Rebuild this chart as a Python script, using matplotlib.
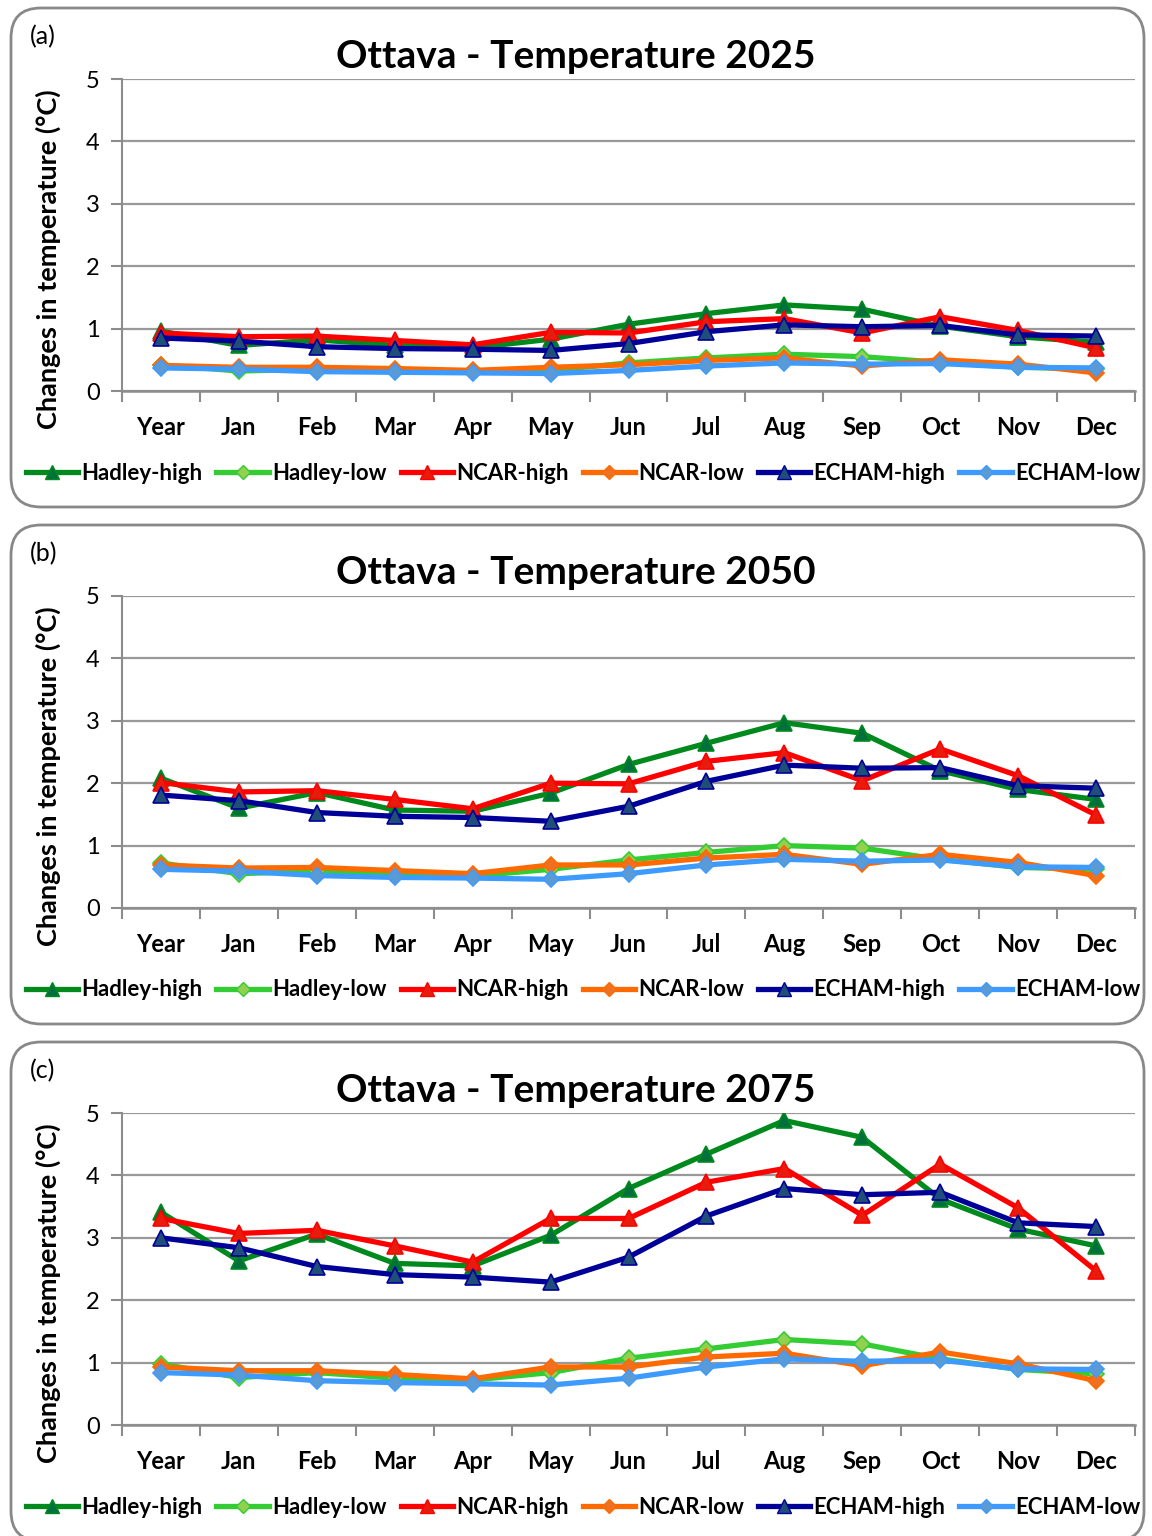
import matplotlib
matplotlib.use("Agg")
import matplotlib.pyplot as plt
from matplotlib.patches import FancyBboxPatch
from matplotlib.lines import Line2D

plt.rcParams['font.family'] = ['Lato', 'DejaVu Sans']

categories = ["Year", "Jan", "Feb", "Mar", "Apr", "May", "Jun", "Jul", "Aug", "Sep", "Oct", "Nov", "Dec"]
series_names = ["Hadley-high", "Hadley-low", "NCAR-high", "NCAR-low", "ECHAM-high", "ECHAM-low"]
years = ["2025", "2050", "2075"]
panel_labels = ["(a)", "(b)", "(c)"]

# 2025
hadley_high_2025 = [0.96, 0.73, 0.82, 0.73, 0.69, 0.83, 1.07, 1.24, 1.38, 1.31, 1.04, 0.87, 0.78]
hadley_low_2025 = [0.42, 0.32, 0.35, 0.33, 0.31, 0.33, 0.45, 0.53, 0.59, 0.55, 0.46, 0.38, 0.35]
ncar_high_2025 = [0.93, 0.87, 0.88, 0.81, 0.74, 0.94, 0.93, 1.11, 1.16, 0.93, 1.19, 0.97, 0.69]
ncar_low_2025 = [0.41, 0.38, 0.38, 0.36, 0.33, 0.38, 0.42, 0.49, 0.53, 0.40, 0.50, 0.43, 0.29]
echam_high_2025 = [0.85, 0.80, 0.71, 0.68, 0.67, 0.65, 0.76, 0.95, 1.06, 1.03, 1.05, 0.90, 0.88]
echam_low_2025 = [0.37, 0.35, 0.31, 0.30, 0.29, 0.28, 0.33, 0.40, 0.45, 0.43, 0.44, 0.38, 0.37]

# 2050
hadley_high_2050 = [2.08, 1.60, 1.85, 1.57, 1.55, 1.84, 2.30, 2.64, 2.97, 2.80, 2.20, 1.90, 1.74]
hadley_low_2050 = [0.72, 0.55, 0.59, 0.53, 0.51, 0.62, 0.77, 0.89, 1.00, 0.96, 0.78, 0.65, 0.62]
ncar_high_2050 = [2.01, 1.86, 1.88, 1.74, 1.59, 2.00, 1.99, 2.35, 2.49, 2.04, 2.55, 2.12, 1.49]
ncar_low_2050 = [0.69, 0.64, 0.65, 0.60, 0.55, 0.69, 0.69, 0.80, 0.86, 0.70, 0.86, 0.73, 0.52]
echam_high_2050 = [1.81, 1.72, 1.53, 1.47, 1.45, 1.39, 1.63, 2.03, 2.29, 2.24, 2.25, 1.96, 1.92]
echam_low_2050 = [0.62, 0.59, 0.52, 0.49, 0.48, 0.46, 0.55, 0.69, 0.78, 0.75, 0.77, 0.66, 0.65]

# 2075
hadley_high_2075 = [3.41, 2.63, 3.06, 2.59, 2.55, 3.04, 3.79, 4.34, 4.88, 4.61, 3.62, 3.14, 2.87]
hadley_low_2075 = [0.98, 0.76, 0.84, 0.75, 0.72, 0.84, 1.07, 1.22, 1.37, 1.30, 1.06, 0.89, 0.82]
ncar_high_2075 = [3.31, 3.07, 3.12, 2.87, 2.61, 3.31, 3.31, 3.89, 4.11, 3.36, 4.18, 3.48, 2.47]
ncar_low_2075 = [0.93, 0.87, 0.87, 0.81, 0.74, 0.93, 0.93, 1.09, 1.15, 0.95, 1.17, 0.98, 0.71]
echam_high_2075 = [3.00, 2.84, 2.54, 2.41, 2.37, 2.29, 2.69, 3.35, 3.79, 3.69, 3.73, 3.24, 3.18]
echam_low_2075 = [0.84, 0.80, 0.71, 0.68, 0.66, 0.64, 0.75, 0.93, 1.06, 1.02, 1.04, 0.90, 0.89]

panel_data = [
    [hadley_high_2025, hadley_low_2025, ncar_high_2025, ncar_low_2025, echam_high_2025, echam_low_2025],
    [hadley_high_2050, hadley_low_2050, ncar_high_2050, ncar_low_2050, echam_high_2050, echam_low_2050],
    [hadley_high_2075, hadley_low_2075, ncar_high_2075, ncar_low_2075, echam_high_2075, echam_low_2075],
]

styles = [
    dict(color="#008a1e", marker="^", mfc="#00703c", mec="#008a1e"),
    dict(color="#33cc33", marker="D", mfc="#92d050", mec="#33cc33"),
    dict(color="#ff0000", marker="^", mfc="#e81c0c", mec="#ff0000"),
    dict(color="#ff6a00", marker="D", mfc="#f07020", mec="#ff6a00"),
    dict(color="#000099", marker="^", mfc="#1f4e79", mec="#000099"),
    dict(color="#3d9bff", marker="D", mfc="#5b9bd5", mec="#3d9bff"),
]
msizes = {"^": 11.5, "D": 8.5}

W, H = 1152, 1536
fig = plt.figure(figsize=(W / 100, H / 100), dpi=100)

panel_tops = [8, 525, 1042]
axes_tops = [79, 596, 1113]
gray = "#8c8c8c"

for p in range(3):
    top = panel_tops[p]
    # rounded frame
    bx0, bx1 = 11 / W, 1144 / W
    by1 = 1 - top / H
    by0 = 1 - (top + 499) / H
    box = FancyBboxPatch((bx0, by0), bx1 - bx0, by1 - by0,
                         boxstyle="round,pad=0,rounding_size=0.026",
                         transform=fig.transFigure, fc="none", ec="#888888",
                         lw=2, mutation_aspect=W / H, zorder=-1, clip_on=False)
    fig.patches.append(box)

    at = axes_tops[p]
    ax = fig.add_axes([122 / W, 1 - (at + 312) / H, 1013 / W, 312 / H])
    ax.set_facecolor("none")
    x = list(range(len(categories)))
    for vals, st, name in zip(panel_data[p], styles, series_names):
        ax.plot(x, vals, color=st["color"], lw=3.8, marker=st["marker"],
                ms=msizes[st["marker"]], mfc=st["mfc"], mec=st["mec"], mew=1.2,
                label=name, solid_joinstyle="miter", zorder=3)
    ax.set_xlim(-0.5, 12.5)
    ax.set_ylim(0, 5)
    ax.set_yticks([0, 1, 2, 3, 4, 5])
    ax.set_xticks(x)
    ax.set_xticklabels(categories, fontsize=17, fontweight="bold")
    ax.set_xticks([i - 0.5 for i in range(14)], minor=True)
    ax.tick_params(axis="x", which="major", length=0, pad=18)
    ax.tick_params(axis="x", which="minor", length=8, width=1.5, color=gray, direction="out")
    ax.tick_params(axis="y", length=8, width=1.5, color=gray, direction="out", labelsize=17, pad=8)
    ax.grid(axis="y", color="#999999", lw=1.6, zorder=0)
    for s in ["top", "right"]:
        ax.spines[s].set_visible(False)
    ax.spines["left"].set_color(gray)
    ax.spines["left"].set_linewidth(1.5)
    ax.spines["bottom"].set_color(gray)
    ax.spines["bottom"].set_linewidth(1.8)

    fig.text(0.5, 1 - (at - 23) / H, "Ottava - Temperature " + years[p],
             ha="center", va="center", fontsize=28, fontweight="bold")
    fig.text(30 / W, 1 - (at - 42) / H, panel_labels[p], ha="left", va="center", fontsize=18)
    fig.text(48 / W, 1 - (at + 180) / H, "Changes in temperature (°C)", rotation=90,
             ha="center", va="center", fontsize=19.5, fontweight="bold")

    handles = [Line2D([], [], color=st["color"], lw=3.8, marker=st["marker"],
                      ms=msizes[st["marker"]] - 1, mfc=st["mfc"], mec=st["mec"])
               for st in styles]
    fig.legend(handles, series_names, loc="center", ncol=6,
               bbox_to_anchor=(583 / W, 1 - (at + 394) / H),
               frameon=False, prop=dict(size=16, weight="bold"),
               handlelength=2.35, handletextpad=0.15, columnspacing=0.63,
               borderpad=0.1)

fig.savefig("out.png", dpi=100)
